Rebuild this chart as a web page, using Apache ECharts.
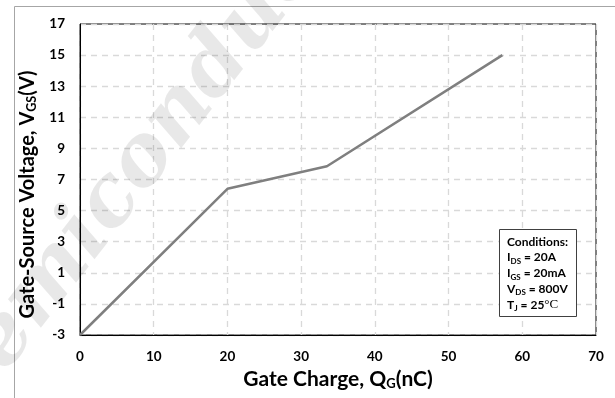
<!DOCTYPE html>
<html>
<head>
<meta charset="utf-8">
<script src="https://cdn.jsdelivr.net/npm/echarts@6/dist/echarts.min.js"></script>
<style>
html,body{margin:0;padding:0;background:#fff;}
#chart{width:615px;height:398px;}
</style>
</head>
<body>
<div id="chart"></div>
<script>
// Gate charge (nC) and gate-source voltage (V)
const gateCharge = [0, 20, 33.5, 57.3];
const vgs = [-3, 6.4, 7.85, 15];
const yTicks = [-3, -1, 1, 3, 5, 7, 9, 11, 13, 15, 17];
const xTicks = [0, 10, 20, 30, 40, 50, 60, 70];
const conditions = ['Conditions:', 'I{s|DS} = 20A', 'I{s|GS} = 20mA', 'V{s|DS} = 800V', 'T{s|J} = 25{c|°C}'];

const chart = echarts.init(document.getElementById('chart'));
const FONT = 'Lato';
const grid = {left: 80, right: 19, top: 24, bottom: 63};
const gridLine = {show: true, lineStyle: {color: '#d9d9d9', type: [6, 5], width: 1.3}};

chart.setOption({
  backgroundColor: '#fff',
  animation: false,
  grid: Object.assign({show: true, borderColor: '#000', borderWidth: 1}, grid),
  xAxis: {
    type: 'value', min: 0, max: 70, interval: 10,
    axisLine: {show: true, onZero: false, lineStyle: {color: '#000', width: 1}},
    axisTick: {show: false, customValues: xTicks},
    axisLabel: {color: '#000', fontFamily: FONT, fontWeight: 'bold', fontSize: 13.5, margin: 15, customValues: xTicks},
    splitLine: gridLine,
    name: 'Gate Charge, Q{s|G}(nC)',
    nameLocation: 'middle', nameGap: 32,
    nameTextStyle: {color: '#000', fontFamily: FONT, fontWeight: 'bold', fontSize: 21,
      rich: {s: {fontSize: 13, fontFamily: FONT, fontWeight: 'bold', verticalAlign: 'bottom', padding: [9,0,0,0]}}}
  },
  yAxis: {
    type: 'value', min: -3, max: 17,
    axisLine: {show: true, onZero: false, lineStyle: {color: '#000', width: 1}},
    axisTick: {show: false, customValues: yTicks},
    axisLabel: {color: '#000', fontFamily: FONT, fontWeight: 'bold', fontSize: 13.5, margin: 15, customValues: yTicks},
    splitLine: gridLine,
    name: 'Gate-Source Voltage, V{s|GS}(V)',
    nameLocation: 'middle', nameGap: 40,
    nameTextStyle: {color: '#000', fontFamily: FONT, fontWeight: 'bold', fontSize: 20, padding: [0, 30, 0, 0],
      rich: {s: {fontSize: 12.5, fontFamily: FONT, fontWeight: 'bold', verticalAlign: 'bottom', padding: [8,0,0,0]}}}
  },
  graphic: [
    {type: 'rect', left: 12, top: 4, shape: {width: 601, height: 392}, style: {fill: 'none', stroke: '#a6a6a6', lineWidth: 1}, z: -10, silent: true},
    {type: 'text', x: 170, y: 127, rotation: 52 * Math.PI / 180, z: 50, silent: true,
      style: {text: 'Semiconductor', fill: 'rgba(0,0,0,0.09)', font: 'italic bold 84px "DejaVu Serif"', align: 'center', verticalAlign: 'middle'}},
    {type: 'rect', left: 499, top: 229, shape: {width: 77, height: 87}, style: {fill: '#fff', stroke: '#404040', lineWidth: 1}, z: 100},
    {type: 'text', left: 507, top: 234, z: 101,
      style: {text: conditions.join('\n'), fill: '#000', font: 'bold 12px Lato', lineHeight: 15.7,
        rich: {s: {fontSize: 8, fontWeight: 'bold', fontFamily: FONT, verticalAlign: 'bottom', padding: [4,0,0,0]},
               c: {fontSize: 13, fontFamily: 'Liberation Serif', fontWeight: 'normal'}}}}
  ],
  series: [{
    type: 'line',
    data: gateCharge.map((q, i) => [q, vgs[i]]),
    showSymbol: false,
    lineStyle: {color: '#7f7f7f', width: 2.5},
    z: 10
  }]
});
</script>
</body>
</html>
